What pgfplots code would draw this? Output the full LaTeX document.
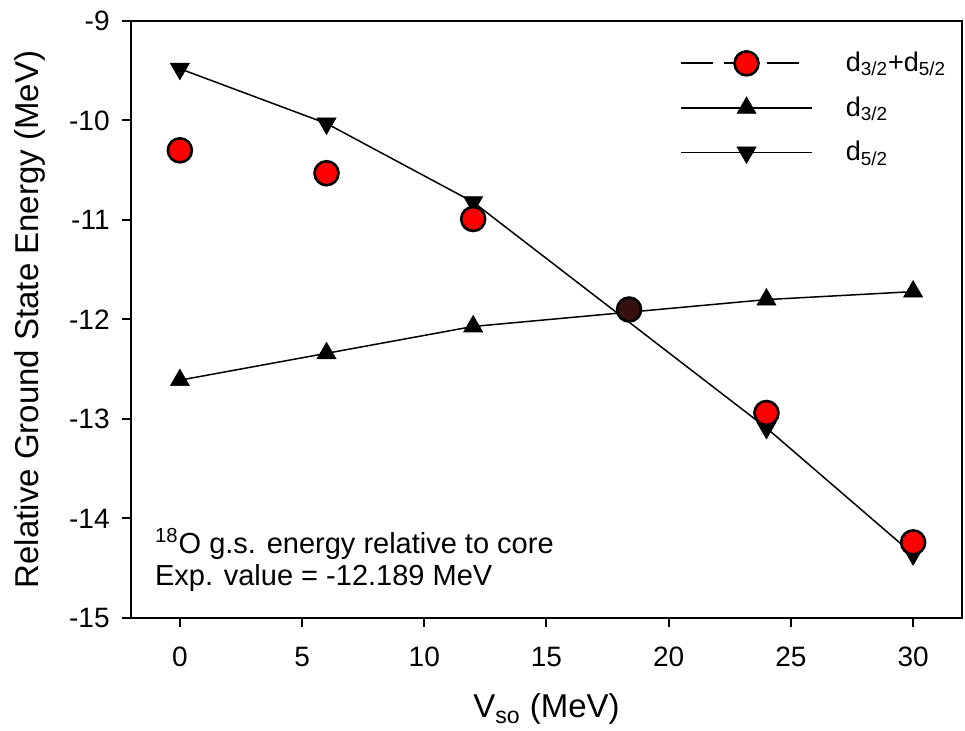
\documentclass[border=0pt]{standalone}
\usepackage{pgfplots}
\pgfplotsset{compat=1.18}
\usepackage{fontspec}
\setmainfont{Liberation Sans}

\pgfplotstableread{
x y
0 -12.61
6 -12.34
12 -12.07
24 -11.80
30 -11.72
}\dthree

\pgfplotstableread{
x y
0 -9.48
6 -10.03
12 -10.82
24 -13.09
30 -14.36
}\dfive

\pgfplotstableread{
x y
0 -10.30
6 -10.53
12 -10.99
24 -12.94
30 -14.24
}\dsum

\definecolor{crossfill}{RGB}{55,15,15}

\begin{document}
\begin{tikzpicture}
\begin{axis}[
  scale only axis,
  width=415.5pt, height=298.5pt,
  xmin=-2, xmax=32, ymin=-15, ymax=-9,
  xtick={0,5,...,30}, ytick={-15,-14,...,-9},
  minor tick num=0,
  tick align=outside, xtick pos=bottom, ytick pos=left,
  major tick length=4.5pt,
  axis line style={line width=1pt},
  every tick/.style={black, line width=1pt},
  /pgf/number format/assume math mode=true,
  ticklabel style={font=\fontsize{14}{17}\selectfont},
  xticklabel style={anchor=north, inner sep=0pt, yshift=-10pt},
  yticklabel style={anchor=east, inner sep=0pt, xshift=-6pt},
  xlabel={V\textsubscript{so} (MeV)},
  ylabel={Relative Ground State Energy (MeV)},
  every axis x label/.style={at={(axis description cs:0.5,-0.1675)}, anchor=base,
    font=\fontsize{16.5}{20}\selectfont},
  every axis y label/.style={at={(axis description cs:-0.1215,0.5)}, rotate=90, anchor=center,
    font=\fontsize{16.5}{20}\selectfont},
  legend style={draw=none, fill=none, at={(rel axis cs:0.653,0.962)}, anchor=north west,
    font=\fontsize{13.5}{16}\selectfont, row sep=7pt},
  legend cell align=left,
  legend image code/.code={\draw[mark repeat=2, mark phase=2, #1] plot coordinates {(0pt,0pt) (32.75pt,0pt) (65.5pt,0pt)};
    \path (80pt,0pt);},
]
% lines with triangles
\addplot[forget plot, black, line width=0.75pt, mark=triangle*, mark size=5.5pt,
  mark options={fill=black, line width=0.3pt}] table {\dthree};
\addplot[forget plot, black, line width=0.75pt, mark=triangle*, mark size=5.5pt,
  mark options={fill=black, line width=0.3pt, rotate=180}] table {\dfive};
% summed levels: only marks
\addplot[forget plot, only marks, mark=*, mark size=6pt,
  mark options={fill=red, draw=black, line width=1.3pt}] table {\dsum};
\addplot[forget plot, only marks, mark=*, mark size=6pt,
  mark options={fill=crossfill, draw=black, line width=1.3pt}] coordinates {(18.38,-11.90)};

\addlegendimage{legend image code/.code={
  \draw[black, line width=1pt, dash pattern=on 16pt off 5.5pt] (0pt,0pt) -- (59pt,0pt);
  \draw[black, mark size=6pt, mark options={fill=red, draw=black, line width=1.3pt, solid}]
    plot[mark=*] coordinates {(32.75pt,0pt)};
  \path (80pt,0pt);}}
\addlegendimage{black, line width=0.75pt, mark=triangle*, mark size=5.5pt,
  mark options={fill=black, line width=0.3pt}}
\addlegendimage{black, line width=0.75pt, mark=triangle*, mark size=5.5pt,
  mark options={fill=black, line width=0.3pt, rotate=180}}
\legend{d\textsubscript{3/2}+d\textsubscript{5/2}, d\textsubscript{3/2}, d\textsubscript{5/2}}

\node[anchor=base west, inner sep=0pt, font=\fontsize{14.5}{17}\selectfont]
  at (axis cs:-1.03,-14.347) {\textsuperscript{18}O g.s. energy relative to core};
\node[anchor=base west, inner sep=0pt, font=\fontsize{14.5}{17}\selectfont]
  at (axis cs:-1.03,-14.678) {Exp. value = -12.189 MeV};
\end{axis}
\pgfresetboundingbox
\path[use as bounding box] (-65.5pt,-56.5pt) rectangle (417pt,309pt);
\end{tikzpicture}
\end{document}
